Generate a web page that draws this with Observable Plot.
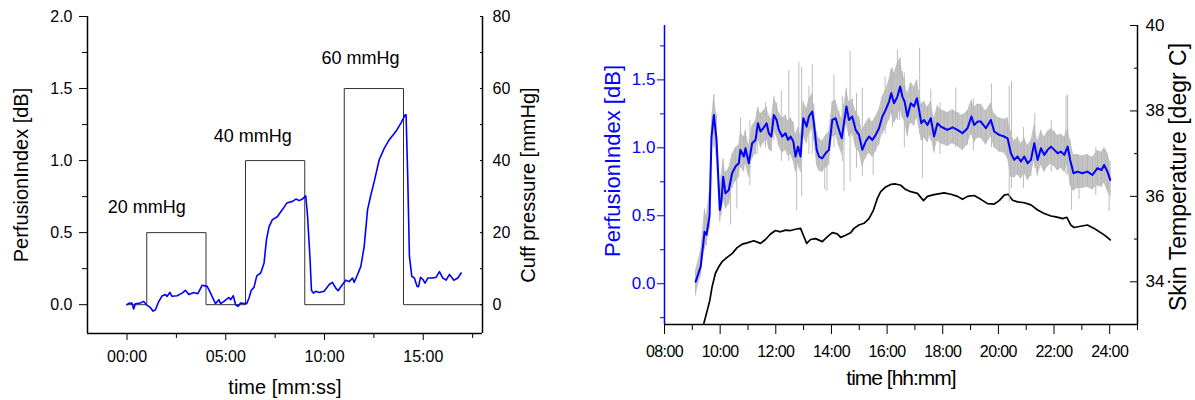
<!DOCTYPE html>
<html>
<head>
<meta charset="utf-8">
<script src="https://cdn.jsdelivr.net/npm/d3@7"></script>
<script src="https://cdn.jsdelivr.net/npm/@observablehq/plot@0.6"></script>
<style>
  body { margin: 0; background: #fff; }
  #wrap { position: relative; width: 1195px; height: 400px; overflow: hidden; }
  .layer { position: absolute; top: 0; }
</style>
</head>
<body>
<div id="wrap"></div>
<script>
// ---------------- LEFT PANEL DATA ----------------
// time in minutes, perfusion index in dB
const leftT = [0,0.1,0.25,0.34,0.42,0.68,0.85,0.98,1.18,1.32,1.44,1.6,1.77,1.94,2.03,2.17,2.28,2.54,2.79,2.96,3.13,3.38,3.59,3.81,4.06,4.23,4.48,4.65,4.74,4.91,5.16,5.25,5.38,5.5,5.62,5.75,6.06,6.18,6.29,6.43,6.57,6.77,6.94,7.06,7.19,7.36,7.61,7.87,8.09,8.38,8.55,8.72,8.88,9.05,9.14,9.27,9.34,9.44,9.56,9.73,9.98,10.24,10.4,10.57,10.69,10.91,11.08,11.25,11.42,11.5,11.67,11.84,12.01,12.18,12.35,12.52,12.77,13.03,13.28,13.62,13.87,14.08,14.13,14.21,14.3,14.42,14.55,14.69,14.76,14.86,14.98,15.09,15.23,15.48,15.65,15.82,15.99,16.16,16.33,16.55,16.75,16.92];
const leftPI = [0,0.01,0.012,-0.03,0.007,0.012,0.023,0.0,-0.02,-0.045,-0.035,0.02,0.06,0.07,0.058,0.085,0.058,0.062,0.08,0.1,0.07,0.085,0.076,0.135,0.127,0.08,0.007,0.035,0.007,0.023,0.05,0.035,0.062,0.0,-0.012,0.012,0.007,0.046,0.1,0.12,0.2,0.22,0.29,0.45,0.54,0.59,0.61,0.66,0.705,0.717,0.733,0.722,0.733,0.756,0.62,0.31,0.10,0.08,0.093,0.085,0.093,0.14,0.155,0.115,0.097,0.14,0.17,0.16,0.185,0.155,0.208,0.266,0.405,0.66,0.763,0.856,1.006,1.087,1.145,1.203,1.26,1.318,1.318,0.91,0.335,0.197,0.185,0.127,0.125,0.19,0.176,0.15,0.185,0.185,0.19,0.23,0.185,0.17,0.21,0.17,0.185,0.22];
// cuff pressure steps (mmHg), held from each time to the next
const pressT = [0,1,4,6,9,11,14,18];
const pressV = [0,20,0,40,0,60,0,0];
// annotations
const annText = ["20 mmHg","40 mmHg","60 mmHg"];
const annT = [1.0,6.37,11.82];
const annPI = [0.673,1.166,1.707];
// axis ticks
const leftXTicks = [0,5,10,15];
const leftXMinor = [2.5,7.5,12.5,17.5];
const leftYTicks = [0,0.5,1.0,1.5,2.0];
const leftYMinor = [0.25,0.75,1.25,1.75];
const pressTicks = [0,20,40,60,80];
const pressMinor = [10,30,50,70];

// ---------------- RIGHT PANEL DATA ----------------
// time in hours of day
const rightT = [9.12,9.30,9.44,9.51,9.62,9.69,9.775,9.87,9.99,10.04,10.11,10.19,10.31,10.43,10.55,10.67,10.73,10.85,10.91,11.03,11.15,11.27,11.36,11.45,11.55,11.67,11.75,11.84,11.93,12.03,12.11,12.23,12.35,12.44,12.53,12.63,12.71,12.80,12.89,12.99,13.11,13.19,13.31,13.37,13.47,13.55,13.67,13.79,13.91,14.03,14.15,14.27,14.37,14.45,14.54,14.63,14.75,14.87,14.99,15.11,15.23,15.35,15.47,15.59,15.71,15.83,15.95,16.07,16.15,16.25,16.37,16.47,16.55,16.63,16.73,16.85,16.97,17.07,17.15,17.23,17.33,17.45,17.57,17.69,17.81,17.93,18.05,18.17,18.35,18.53,18.71,18.89,19.03,19.13,19.25,19.37,19.55,19.73,19.85,20.03,20.21,20.33,20.45,20.57,20.69,20.81,20.93,21.05,21.17,21.29,21.41,21.53,21.65,21.77,21.89,22.01,22.13,22.25,22.37,22.49,22.58,22.70,22.84,23.02,23.20,23.38,23.56,23.71,23.80,23.92,24.02];
const rightPI = [0.015,0.126,0.383,0.36,0.50,1.083,1.242,1.058,0.543,0.592,0.788,0.665,0.69,0.813,0.862,0.886,0.985,0.936,0.997,0.886,1.034,1.058,1.181,1.12,1.144,1.181,1.107,1.083,1.242,1.205,1.132,1.083,1.107,1.058,1.083,1.046,0.936,1.009,0.936,1.218,1.156,1.23,1.267,1.181,0.985,0.936,0.923,0.96,0.985,1.205,1.218,1.132,1.07,1.181,1.304,1.205,1.23,1.132,1.095,0.985,1.046,1.083,1.058,1.095,1.144,1.23,1.279,1.34,1.402,1.328,1.377,1.451,1.377,1.34,1.23,1.328,1.304,1.365,1.279,1.181,1.205,1.168,1.218,1.083,1.181,1.156,1.144,1.132,1.151,1.132,1.107,1.144,1.23,1.168,1.193,1.193,1.144,1.205,1.12,1.095,1.083,1.07,0.96,0.911,0.936,0.899,0.936,0.886,0.911,1.034,0.911,0.997,0.948,0.985,1.009,0.985,0.96,0.972,0.948,1.009,0.911,0.813,0.825,0.813,0.825,0.80,0.85,0.837,0.874,0.825,0.764];
// raw (unsmoothed) perfusion index envelope, same times
const rawHi = [0.10,0.24,0.55,0.50,0.70,1.20,1.39,1.25,0.70,0.80,0.92,0.82,0.85,0.95,1.00,1.02,1.12,1.08,1.13,1.02,1.16,1.20,1.30,1.25,1.27,1.30,1.24,1.21,1.36,1.33,1.26,1.22,1.24,1.20,1.22,1.19,1.10,1.15,1.09,1.34,1.29,1.36,1.40,1.32,1.12,1.07,1.05,1.09,1.12,1.34,1.35,1.27,1.21,1.32,1.44,1.34,1.36,1.27,1.23,1.13,1.18,1.22,1.19,1.23,1.28,1.38,1.43,1.50,1.58,1.55,1.62,1.66,1.56,1.50,1.40,1.48,1.45,1.50,1.42,1.32,1.34,1.30,1.34,1.22,1.31,1.28,1.27,1.26,1.28,1.26,1.24,1.27,1.35,1.30,1.32,1.32,1.27,1.33,1.25,1.22,1.21,1.22,1.12,1.05,1.08,1.03,1.07,1.02,1.05,1.17,1.05,1.13,1.08,1.12,1.14,1.12,1.09,1.10,1.08,1.14,1.06,0.95,0.95,0.94,0.95,0.93,0.98,0.97,1.00,0.96,0.90];
const rawLo = [-0.09,0.05,0.25,0.28,0.40,0.95,1.10,0.90,0.45,0.50,0.62,0.55,0.58,0.70,0.75,0.78,0.86,0.82,0.88,0.78,0.92,0.95,1.06,1.00,1.03,1.06,0.99,0.97,1.12,1.08,1.01,0.96,0.98,0.94,0.95,0.90,0.82,0.88,0.82,1.08,1.03,1.10,1.14,1.05,0.87,0.83,0.82,0.85,0.87,1.08,1.09,1.01,0.95,1.05,1.17,1.08,1.10,1.00,0.97,0.86,0.92,0.96,0.93,0.97,1.02,1.10,1.14,1.20,1.25,1.18,1.22,1.28,1.22,1.19,1.08,1.18,1.16,1.22,1.14,1.05,1.07,1.04,1.09,0.96,1.05,1.03,1.02,1.01,1.03,1.01,0.98,1.02,1.10,1.04,1.07,1.07,1.02,1.08,1.00,0.97,0.96,0.92,0.78,0.78,0.80,0.77,0.81,0.76,0.79,0.90,0.79,0.87,0.82,0.86,0.88,0.86,0.83,0.85,0.82,0.88,0.72,0.68,0.70,0.70,0.71,0.69,0.72,0.71,0.74,0.68,0.64];
// isolated raw spikes: time, low end, high end
const spikeT  = [9.77,10.37,10.6,10.73,11.07,11.33,11.63,11.93,12.2,12.47,12.75,12.83,12.93,13.19,13.31,13.76,13.84,14.09,14.39,14.45,14.67,14.9,15.11,15.5,15.93,16.19,16.37,16.45,16.62,17.17,17.27,17.57,17.9,18.47,19.1,19.75,20.39,20.47,20.9,21.31,21.9,22.43,22.49,22.63,22.9,23.5,23.86,23.98];
const spikeLo = [1.0,0.43,0.55,0.85,0.72,0.95,1.0,1.05,0.9,0.9,0.54,0.85,0.64,0.95,0.95,0.69,0.68,1.0,0.9,0.68,0.75,0.85,0.79,0.8,1.1,1.15,1.2,1.2,1.0,1.1,0.776,1.05,0.95,1.0,0.98,1.0,0.6,0.7,0.7,0.85,0.82,0.8,0.8,0.54,0.62,0.65,0.8,0.53];
const spikeHi = [1.39,0.85,0.9,1.22,1.2,1.265,1.33,1.38,1.42,1.57,1.0,1.628,1.59,1.45,1.61,1.0,1.0,1.537,1.38,1.1,1.708,1.4,1.44,1.05,1.52,1.588,1.72,1.66,1.55,1.733,1.2,1.43,1.33,1.44,1.36,1.47,1.455,1.49,1.15,1.25,1.2,1.38,1.39,0.9,0.9,1.0,0.985,0.85];
// skin temperature (deg C)
const tempT = [9.415,9.51,9.63,9.71,9.83,9.95,10.07,10.25,10.43,10.61,10.79,10.97,11.21,11.45,11.63,11.81,11.99,12.17,12.35,12.53,12.71,12.89,12.99,13.11,13.25,13.43,13.67,13.85,14.03,14.21,14.33,14.51,14.69,14.81,14.99,15.17,15.35,15.51,15.65,15.77,15.95,16.13,16.31,16.49,16.67,16.85,17.09,17.31,17.45,17.69,18.05,18.29,18.53,18.71,18.89,19.13,19.37,19.61,19.85,20.03,20.21,20.35,20.51,20.69,20.93,21.17,21.41,21.65,21.89,22.07,22.31,22.46,22.6,22.72,22.96,23.2,23.44,23.68,23.86,24.02];
const tempV = [33.03,33.26,33.57,33.88,34.2,34.35,34.47,34.57,34.66,34.8,34.88,34.91,34.96,34.9,34.99,35.12,35.2,35.17,35.21,35.2,35.23,35.25,35.09,34.9,34.99,35.01,34.94,35.05,35.15,35.12,35.04,35.09,35.15,35.25,35.33,35.37,35.48,35.68,35.95,36.11,36.22,36.28,36.29,36.26,36.16,36.11,36.07,35.9,36.0,36.04,36.08,36.05,36.0,35.93,36.0,36.02,35.93,35.83,35.82,35.9,36.03,36.05,35.91,35.87,35.85,35.8,35.68,35.6,35.54,35.52,35.48,35.51,35.33,35.27,35.3,35.33,35.25,35.15,35.07,34.98];
// axis ticks
const rightXTicks = [8,10,12,14,16,18,20,22,24];
const rightXMinor = [9,11,13,15,17,19,21,23,25];
const rightYTicks = [0,0.5,1.0,1.5];
const rightYMinor = [-0.25,0.25,0.75,1.25,1.75];
const tempTicks = [34,36,38,40];
const tempMinor = [35,37,39];

// ---------------- DRAWING ----------------
const font = "'Liberation Sans', Arial, Helvetica, sans-serif";
const BLUE = "#0000ff";
const wrap = document.getElementById("wrap");
const blank = () => "";
const hhmm = h => String(h).padStart(2, "0") + ":00";
const mmss = m => String(m).padStart(2, "0") + ":00";

function place(svg, left) {
  svg.classList.add("layer");
  svg.style.left = left + "px";
  wrap.appendChild(svg);
  return svg;
}

const baseStyle = {fontFamily: font, fontSize: "16px", background: "transparent", color: "#000", overflow: "visible"};

// ----- Left panel -----
const LGEOM = {width: 560, height: 400, marginLeft: 87, marginRight: 78, marginTop: 16, marginBottom: 67};
const leftData = leftT.map((t, i) => ({t, v: leftPI[i]}));
const pressData = pressT.map((t, i) => ({t, p: pressV[i]}));
const annData = annText.map((s, i) => ({s, t: annT[i], v: annPI[i]}));

const leftPress = Plot.plot({
  ...LGEOM,
  style: baseStyle,
  x: {domain: [-2, 18], axis: null},
  y: {domain: [-8, 80], axis: null},
  marks: [
    Plot.line(pressData, {x: "t", y: "p", curve: "step-after", stroke: "#333", strokeWidth: 1}),
    Plot.axisY(pressTicks, {anchor: "right", tickSize: -3, tickPadding: 13, label: null, fontSize: 16}),
    Plot.axisY(pressMinor, {anchor: "right", tickSize: -3, tickFormat: blank, label: null}),
    Plot.text(["Cuff pressure [mmHg]"], {frameAnchor: "right", textAnchor: "middle", lineAnchor: "middle", dx: 46, dy: 10, rotate: -90, fontSize: 20})
  ]
});
place(leftPress, 0);

const leftPI_plot = Plot.plot({
  ...LGEOM,
  style: baseStyle,
  x: {domain: [-2, 18]},
  y: {domain: [-0.2, 2.0]},
  marks: [
    Plot.ruleX([-2], {stroke: "#000", strokeWidth: 1.5}),
    Plot.ruleX([18], {stroke: "#000", strokeWidth: 1.5}),
    Plot.ruleY([-0.2], {stroke: "#000", strokeWidth: 1.5}),
    Plot.axisY(leftYTicks, {anchor: "left", tickSize: 8, tickPadding: 7, tickFormat: d3.format(".1f"), label: null, fontSize: 16}),
    Plot.axisY(leftYMinor, {anchor: "left", tickSize: 5, tickFormat: blank, label: null}),
    Plot.axisX(leftXTicks, {anchor: "bottom", tickSize: 7, tickPadding: 10, tickFormat: mmss, label: null, fontSize: 16}),
    Plot.axisX(leftXMinor, {anchor: "bottom", tickSize: 5, tickFormat: blank, label: null}),
    Plot.line(leftData, {x: "t", y: "v", stroke: BLUE, strokeWidth: 1.6, strokeLinejoin: "round"}),
    Plot.text(annData, {x: "t", y: "v", text: "s", fontSize: 18}),
    Plot.text(["PerfusionIndex [dB]"], {frameAnchor: "left", textAnchor: "middle", lineAnchor: "middle", dx: -66, rotate: -90, fontSize: 20}),
    Plot.text(["time [mm:ss]"], {frameAnchor: "bottom", textAnchor: "middle", lineAnchor: "middle", dy: 54, fontSize: 20})
  ]
});
place(leftPI_plot, 0);

// ----- Right panel -----
const RGEOM = {width: 615, height: 400, marginLeft: 84, marginRight: 58, marginTop: 25, marginBottom: 76};
const rightData = rightT.map((t, i) => ({t, v: rightPI[i], hi: rawHi[i], lo: rawLo[i]}));
const spikeData = spikeT.map((t, i) => ({t, lo: spikeLo[i], hi: spikeHi[i]}));
const tempData = tempT.map((t, i) => ({t, c: tempV[i]}));

const rightTemp = Plot.plot({
  ...RGEOM,
  style: baseStyle,
  x: {domain: [8, 25], axis: null},
  y: {domain: [33, 40], axis: null},
  marks: [
    Plot.ruleX([25], {stroke: "#000", strokeWidth: 1.5}),
    Plot.line(tempData, {x: "t", y: "c", stroke: "#000", strokeWidth: 1.7, strokeLinejoin: "round"}),
    Plot.axisY(tempTicks, {anchor: "right", tickSize: -8, tickPadding: 16, label: null, fontSize: 17}),
    Plot.axisY(tempMinor, {anchor: "right", tickSize: -4, tickFormat: blank, label: null}),
    Plot.text(["Skin Temperature [degr C]"], {frameAnchor: "right", textAnchor: "middle", lineAnchor: "middle", dx: 41, dy: 2, rotate: -90, fontSize: 23})
  ]
});
place(rightTemp, 580);

const rightPI_plot = Plot.plot({
  ...RGEOM,
  style: baseStyle,
  x: {domain: [8, 25]},
  y: {domain: [-0.3, 1.9]},
  marks: [
    Plot.areaY(rightData, {x: "t", y1: "lo", y2: "hi", fill: "#c4c4c4"}),
    Plot.ruleX(rightData, {x: "t", y1: "lo", y2: "hi", stroke: "#b4b4b4", strokeWidth: 0.8}),
    Plot.ruleX(spikeData, {x: "t", y1: "lo", y2: "hi", stroke: "#bcbcbc", strokeWidth: 1}),
    Plot.line(rightData, {x: "t", y: "v", stroke: BLUE, strokeWidth: 2, strokeLinejoin: "round"}),
    Plot.ruleY([-0.3], {stroke: "#000", strokeWidth: 1.5}),
    Plot.ruleX([8], {stroke: BLUE, strokeWidth: 1.5}),
    Plot.axisY(rightYTicks, {anchor: "left", tickSize: 7, tickPadding: 2, tickFormat: d3.format(".1f"), label: null, color: BLUE, fontSize: 17}),
    Plot.axisY(rightYMinor, {anchor: "left", tickSize: 4, tickFormat: blank, label: null, color: BLUE}),
    Plot.axisX(rightXTicks, {anchor: "bottom", tickSize: 10, tickPadding: 11, tickFormat: hhmm, label: null, fontSize: 16}),
    Plot.axisX(rightXMinor, {anchor: "bottom", tickSize: 6, tickFormat: blank, label: null}),
    Plot.text(["PerfusionIndex [dB]"], {frameAnchor: "left", textAnchor: "middle", lineAnchor: "middle", dx: -52, dy: -14, rotate: -90, fontSize: 22, fill: BLUE}),
    Plot.text(["time [hh:mm]"], {frameAnchor: "bottom", textAnchor: "middle", lineAnchor: "middle", dy: 54, fontSize: 21})
  ]
});
place(rightPI_plot, 580);

// condensed lettering as in the reference's right panel
d3.select(rightPI_plot).selectAll('g[aria-label="x-axis tick label"] text').style("letter-spacing", "-0.6px");
d3.select(rightPI_plot).selectAll("text").filter(function () { return this.textContent === "time [hh:mm]"; }).style("letter-spacing", "-1px");
</script>
</body>
</html>
